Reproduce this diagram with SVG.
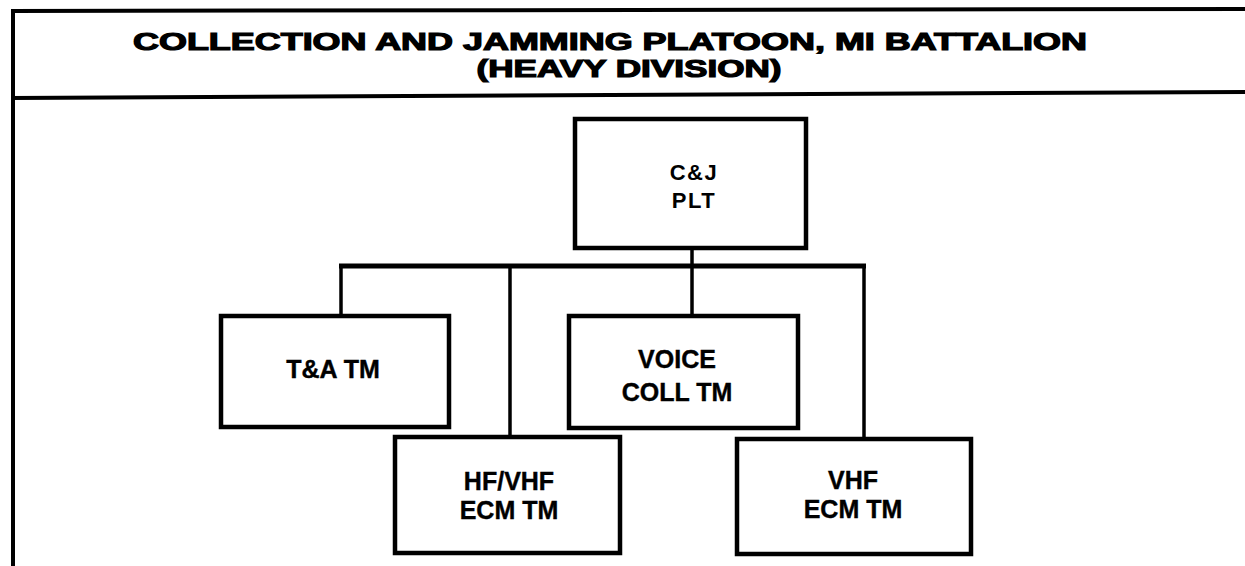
<svg xmlns="http://www.w3.org/2000/svg" width="1245" height="566" viewBox="0 0 1245 566">
<style>
.frame{stroke:#000;stroke-width:4;fill:none}
.box{stroke:#000;stroke-width:4.5;fill:#fff}
.conn{stroke:#000;stroke-width:3.5;fill:none}
.bus{stroke:#000;stroke-width:5;fill:none}
.title{font-family:"Liberation Sans",Arial,sans-serif;font-weight:bold;font-size:24px;text-anchor:middle;fill:#000;stroke:#000;stroke-width:1.2px}
.lbl{font-family:"Liberation Sans",Arial,sans-serif;font-weight:bold;font-size:25px;text-anchor:middle;fill:#000;stroke:#000;stroke-width:0.4px}
.lbl2{font-family:"Liberation Sans",Arial,sans-serif;font-weight:bold;font-size:22px;text-anchor:middle;fill:#000;letter-spacing:1.5px}
</style>
<rect width="1245" height="566" fill="#fff"/>
<g id="frame">
<line class="frame" x1="11" y1="11" x2="1245" y2="9"/>
<line class="frame" x1="13" y1="9" x2="13" y2="566"/>
<line class="frame" x1="11" y1="98" x2="1245" y2="92"/>
<text class="title" x="610" y="50" textLength="954" lengthAdjust="spacingAndGlyphs">COLLECTION AND JAMMING PLATOON, MI BATTALION</text>
<text class="title" x="629" y="77" textLength="305" lengthAdjust="spacingAndGlyphs">(HEAVY DIVISION)</text>
</g>
<g id="connectors">
<line class="conn" x1="692" y1="248" x2="692" y2="266"/>
<line class="bus" x1="339" y1="266" x2="866" y2="266"/>
<line class="conn" x1="341" y1="266" x2="341" y2="316"/>
<line class="conn" x1="510" y1="266" x2="510" y2="437"/>
<line class="conn" x1="692" y1="266" x2="692" y2="316"/>
<line class="conn" x1="864" y1="266" x2="864" y2="439"/>
</g>
<g id="cj-plt">
<rect class="box" x="575" y="119" width="231" height="129"/>
<text class="lbl2" x="694" y="180">C&amp;J</text>
<text class="lbl2" x="694" y="208">PLT</text>
</g>
<g id="ta-tm">
<rect class="box" x="221" y="316" width="228" height="111"/>
<text class="lbl" x="333" y="378">T&amp;A TM</text>
</g>
<g id="voice-coll-tm">
<rect class="box" x="569" y="316" width="229" height="112"/>
<text class="lbl" x="677" y="368">VOICE</text>
<text class="lbl" x="677" y="401">COLL TM</text>
</g>
<g id="hfvhf-ecm-tm">
<rect class="box" x="395" y="437" width="225" height="116"/>
<text class="lbl" x="509" y="490">HF/VHF</text>
<text class="lbl" x="509" y="519">ECM TM</text>
</g>
<g id="vhf-ecm-tm">
<rect class="box" x="737" y="439" width="234" height="115"/>
<text class="lbl" x="853" y="489">VHF</text>
<text class="lbl" x="853" y="518">ECM TM</text>
</g>
</svg>
